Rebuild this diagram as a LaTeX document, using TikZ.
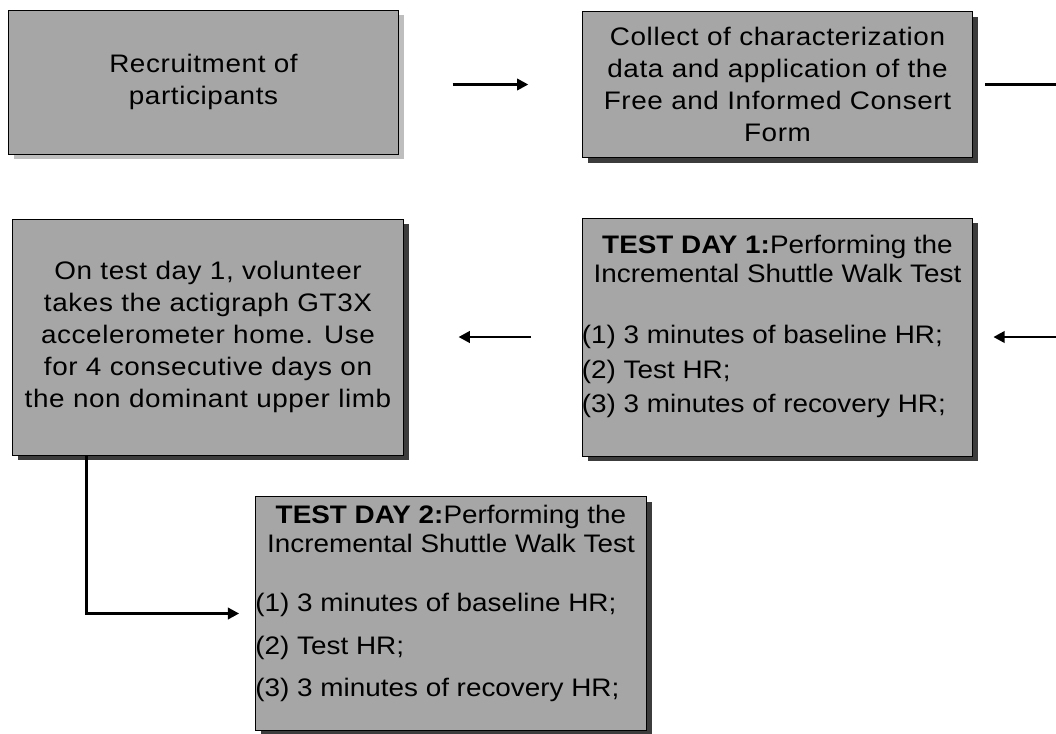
\documentclass[tikz,border=0pt]{standalone}
\usepackage{fontspec}
\setmainfont{Liberation Sans}[FakeStretch=1.1]
\usepackage{xcolor}
\usepackage{tikz}
\usetikzlibrary{positioning,arrows.meta,shadows}
\definecolor{boxgray}{HTML}{A6A6A6}
\definecolor{shadowgray}{HTML}{3C3C3C}
\definecolor{softshadow}{HTML}{BEBEBE}

\begin{document}
\begin{tikzpicture}[x=0.75pt,y=-0.75pt,
  stepbox/.style={draw=black,line width=0.75pt,fill=boxgray,inner sep=0pt,
    minimum width=293pt,align=center,font=\fontsize{19}{24}\selectfont\addfontfeature{LetterSpace=2.4}},
  boxshadow/.style={drop shadow={shadow xshift=4pt,shadow yshift=-4pt,fill=#1,opacity=1}},
  headtext/.style={inner sep=0pt,align=center,font=\fontsize{19}{22}\selectfont},
  listtext/.style={inner sep=0pt,align=left,anchor=north west},
  flow/.style={line width=2.2pt,-{Triangle[length=8.5pt,width=8.5pt]}}]
  \useasboundingbox (0,0) rectangle (1056,733);
  \node[stepbox,boxshadow=softshadow,minimum height=108pt] (recruit) at (203.5,82) {Recruitment of\\participants};
  \node[stepbox,boxshadow=shadowgray,minimum height=109pt] (consent) at (777.5,84.5) {Collect of characterization\\data and application of the\\Free and Informed Consert\\Form};
  \node[stepbox,boxshadow=shadowgray,minimum height=177pt] (homeuse) at (208,337) {On test day 1, volunteer\\takes the actigraph GT3X\\accelerometer home. Use\\for 4 consecutive days on\\the non dominant upper limb};
  \node[stepbox,boxshadow=shadowgray,minimum height=178.5pt] (testone) at (777.5,337) {};
  \node[stepbox,boxshadow=shadowgray,minimum height=176pt] (testtwo) at (451,613.5) {};

  \node[headtext,below=13pt of testone.north] (headone) {\textbf{TEST DAY 1:}Performing the\\Incremental Shuttle Walk Test};
  \node[listtext,font=\fontsize{19}{26}\selectfont] (listone) at ([yshift=-80.5pt]testone.north west) {(1) 3 minutes of baseline HR;\\(2) Test HR;\\(3) 3 minutes of recovery HR;};
  \node[headtext,below=7pt of testtwo.north] (headtwo) {\textbf{TEST DAY 2:}Performing the\\Incremental Shuttle Walk Test};
  \node[listtext,font=\fontsize{19}{32}\selectfont] (listtwo) at ([yshift=-73pt]testtwo.north west) {(1) 3 minutes of baseline HR;\\(2) Test HR;\\(3) 3 minutes of recovery HR;};

  \coordinate (rail) at (1090,0);
  \draw[flow,shorten <=40pt,shorten >=40pt] (recruit.east |- consent.west) -- (consent.west);
  \draw[flow,shorten <=9pt,shorten >=15pt] (consent.east) -- (consent.east -| rail) -- (testone.east -| rail) -- (testone.east);
  \draw[flow,shorten <=38pt,shorten >=41pt] (testone.west) -- (homeuse.east);
  \draw[flow,shorten >=12pt] ([xshift=56pt]homeuse.south west) |- (testtwo.west);
\end{tikzpicture}
\end{document}
